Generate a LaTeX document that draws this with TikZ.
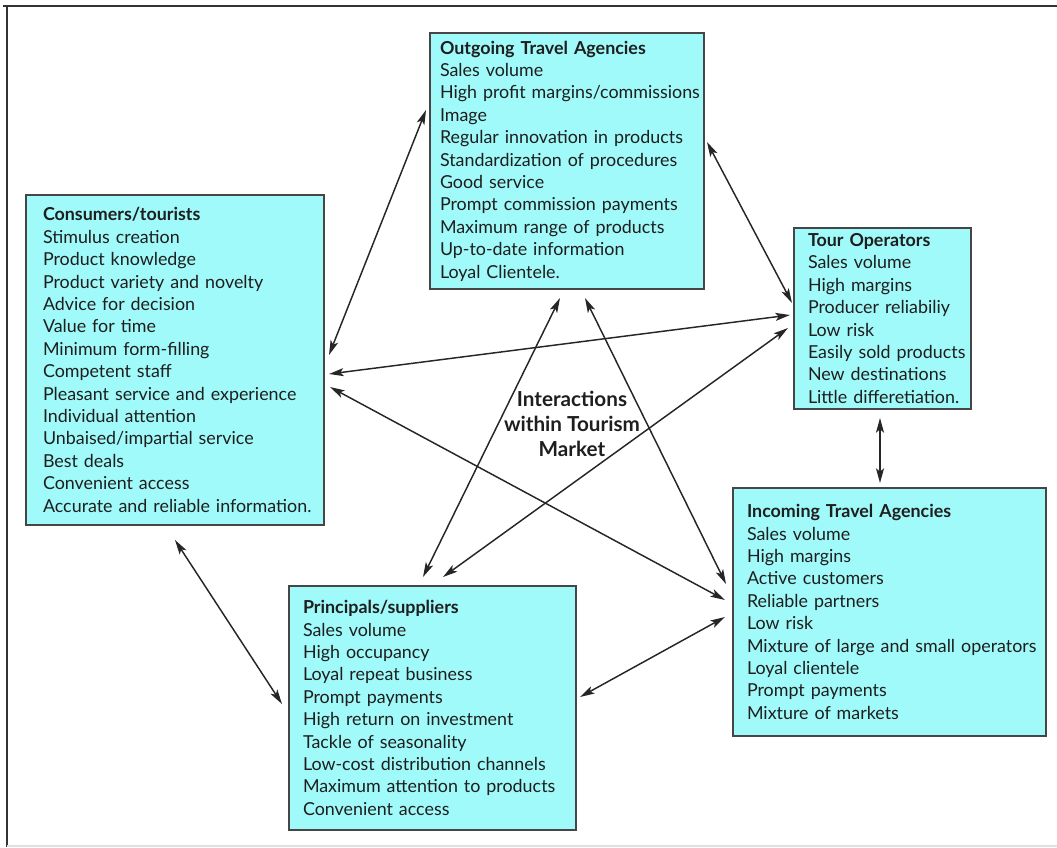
\documentclass[tikz,border=0pt]{standalone}
\usepackage{fontspec}
\setmainfont{Lato}
\usetikzlibrary{arrows.meta}
\definecolor{boxfill}{RGB}{160,250,250}
\definecolor{boxline}{RGB}{70,70,70}
\definecolor{txt}{RGB}{30,30,30}
\begin{document}
\begin{tikzpicture}[x=0.75pt,y=-0.75pt,
  box/.style={draw=boxline,fill=boxfill,line width=1.5pt,anchor=north west,align=left,
    inner ysep=0pt,font=\fontsize{13.4}{16.8}\selectfont,text=txt},
  link/.style={line width=1.1pt,draw=black!85,{Stealth[length=11pt,width=6pt,inset=2.5pt]}-{Stealth[length=11pt,width=6pt,inset=2.5pt]}},
  frameline/.style={line width=2pt,draw=black!80}]
\useasboundingbox (0,0) rectangle (1057,847);
% frame
\draw[frameline] (3,6) -- (1057,6);
\draw[frameline] (7,6) -- (7,847);
\draw[line width=1pt,draw=black!12] (7,846) -- (1057,846);

\node[box,text width=190.5pt,inner xsep=7.5pt,minimum height=192pt] (out) at (429,32)
 {\textbf{Outgoing Travel Agencies}\\Sales volume\\\mbox{High profit margins/commissions}\\Image\\Regular innovation in products\\Standardization of procedures\\Good service\\Prompt commission payments\\Maximum range of products\\Up-to-date information\\Loyal Clientele.};

\node[box,text width=198pt,inner xsep=12.75pt,minimum height=247.5pt] (con) at (25,194)
 {\textbf{Consumers/tourists}\\Stimulus creation\\Product knowledge\\Product variety and novelty\\Advice for decision\\Value for time\\Minimum form-filling\\Competent staff\\Pleasant service and experience\\Individual attention\\Unbaised/impartial service\\Best deals\\Convenient access\\\mbox{Accurate and reliable information.}};

\node[box,text width=111.75pt,inner xsep=10.5pt,minimum height=135.75pt] (tour) at (793,227)
 {\textbf{Tour Operators}\\Sales volume\\High margins\\\mbox{Producer reliabiliy}\\Low risk\\\mbox{Easily sold products}\\\mbox{New destinations}\\\mbox{Little differetiation.}};

\node[box,text width=213.75pt,inner xsep=10.5pt,minimum height=186pt] (inc) at (732,487)
 {\textbf{Incoming Travel Agencies}\\Sales volume\\High margins\\Active customers\\Reliable partners\\Low risk\\\mbox{Mixture of large and small operators}\\Loyal clientele\\Prompt payments\\Mixture of markets};

\node[box,text width=194.25pt,inner xsep=10.5pt,minimum height=183pt] (pri) at (288,585)
 {\textbf{Principals/suppliers}\\Sales volume\\High occupancy\\Loyal repeat business\\Prompt payments\\High return on investment\\Tackle of seasonality\\\mbox{Low-cost distribution channels}\\\mbox{Maximum attention to products}\\Convenient access};

\node[font=\bfseries\fontsize{15.5}{18.75}\selectfont,align=center,text=txt] (mid) at (572,424)
 {Interactions\\within Tourism\\Market};

% arrow end points
\coordinate (c1) at (329,355); \coordinate (o1) at (426,110);
\coordinate (c2) at (329,374); \coordinate (t2) at (790,315);
\coordinate (c3) at (330,387); \coordinate (i3) at (725,600);
\coordinate (o4) at (560,298); \coordinate (p4) at (423,577);
\coordinate (o5) at (585,298); \coordinate (i5) at (726,584);
\coordinate (t6) at (788,328); \coordinate (p6) at (443,577);
\coordinate (o7) at (707,142); \coordinate (t7) at (792,303);
\coordinate (t8) at (880,418); \coordinate (i8) at (880,483);
\coordinate (c9) at (175,540); \coordinate (p9) at (282,704);
\coordinate (p10) at (580,697); \coordinate (i10) at (725,617);

\draw[link] (c1) -- (o1);
\draw[link] (c2) -- (t2);
\draw[link] (c3) -- (i3);
\draw[link] (o4) -- (p4);
\draw[link] (o5) -- (i5);
\draw[link] (t6) -- (p6);
\draw[link] (o7) -- (t7);
\draw[link] (t8) -- (i8);
\draw[link] (c9) -- (p9);
\draw[link] (p10) -- (i10);
\end{tikzpicture}
\end{document}
